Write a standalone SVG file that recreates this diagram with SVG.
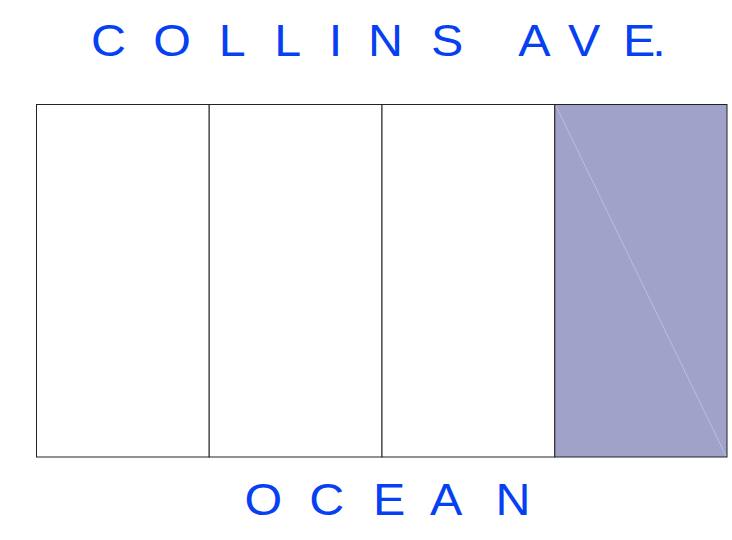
<svg xmlns="http://www.w3.org/2000/svg" width="732" height="540" viewBox="0 0 732 540">
  <style>
    .label { font-family: "Liberation Sans", Arial, sans-serif; font-size: 44px; fill: #0540F2; }
    .lot { fill: #FFFFFF; stroke: #222222; stroke-width: 1; }
    .lot-shaded { fill: #A0A2C9; stroke: #222222; stroke-width: 1; }
    .diag { stroke: #BDBDE2; stroke-width: 1; fill: none; }
  </style>
  <rect width="732" height="540" fill="#FFFFFF"/>
  <g id="street-label">
    <text class="label" transform="scale(1.1,1)" y="56" x="82.8 139.4 198.9 249.3 298.9 334.5 391.9 440 471.2 516.4 566.3 593.0">COLLINS AVE.</text>
  </g>
  <g id="lots">
    <g id="lot-1"><rect class="lot" x="36.5" y="104.5" width="172.7" height="352.5"/></g>
    <g id="lot-2"><rect class="lot" x="209.2" y="104.5" width="172.8" height="352.5"/></g>
    <g id="lot-3"><rect class="lot" x="382" y="104.5" width="172.8" height="352.5"/></g>
    <g id="lot-4">
      <rect class="lot-shaded" x="554.8" y="104.5" width="172.2" height="352.5"/>
      <line class="diag" x1="556" y1="106" x2="726" y2="456"/>
    </g>
  </g>
  <g id="ocean-label">
    <text class="label" transform="scale(1.1,1)" y="515" x="222.2 281.2 339.1 390.9 450.5">OCEAN</text>
  </g>
</svg>
